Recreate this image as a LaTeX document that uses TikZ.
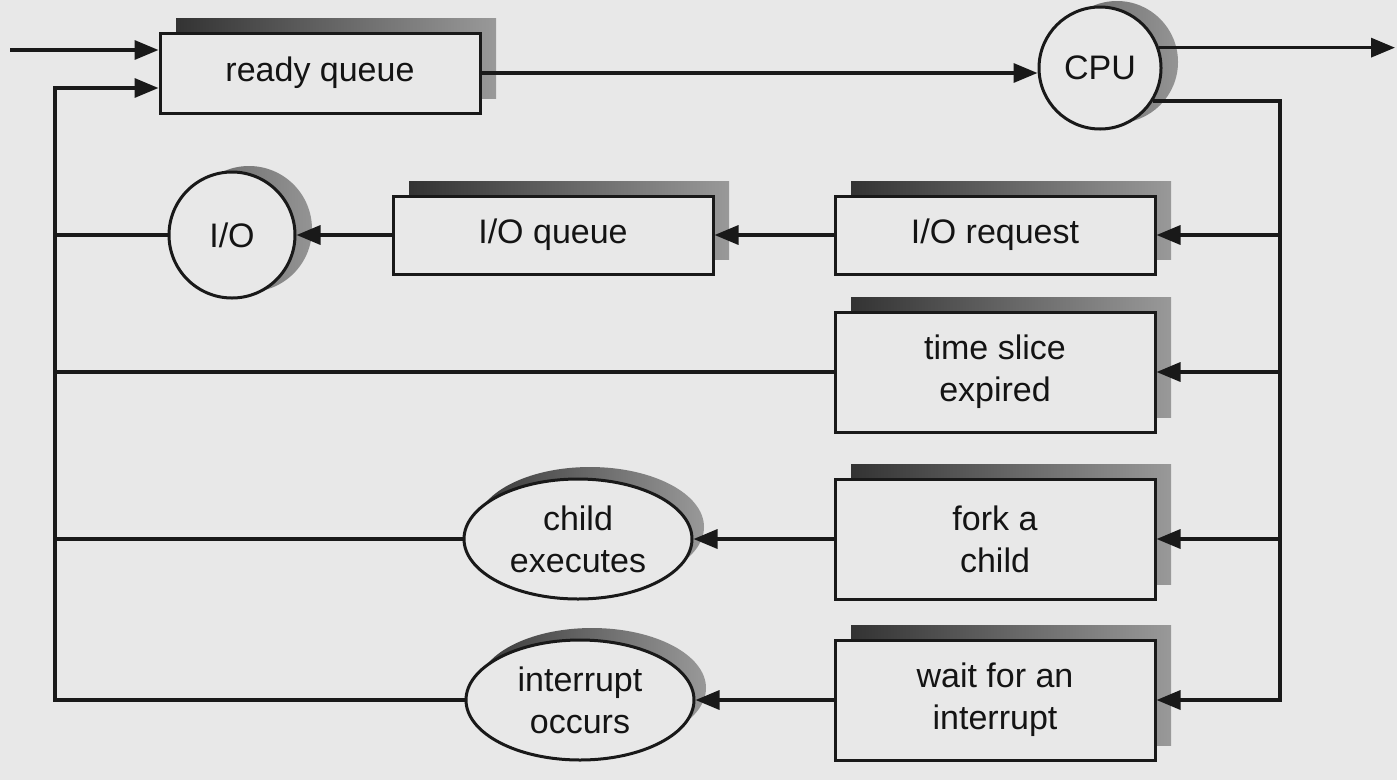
\documentclass[tikz,border=0pt]{standalone}
\usepackage{fontspec}
\setmainfont{Liberation Sans}
\usetikzlibrary{arrows.meta,shapes.geometric,shadows}
\begin{document}
\begin{tikzpicture}[x=1pt,y=-1pt,
  every node/.style={font=\fontsize{34}{42}\selectfont, text=black!92},
  line/.style={draw=black!90, line width=3.4pt},
  arr/.style={line, -{Triangle[length=24pt,width=19pt]}},
  boxnode/.style={draw=black!90, line width=3pt, fill=black!9, minimum width=320pt,
    align=center, inner sep=0pt,
    general shadow={shadow scale=1, shadow xshift=16pt, shadow yshift=15pt,
      left color=black!80, right color=black!40}},
  circnode/.style={circle, draw=black!90, line width=3pt, fill=black!9, inner sep=0pt,
    general shadow={shadow scale=1, shadow xshift=17pt, shadow yshift=6pt,
      left color=black!60, right color=black!42}},
  ellnode/.style={ellipse, draw=black!90, line width=3pt, fill=black!9, inner sep=0pt,
    minimum width=228pt, minimum height=120pt, align=center,
    general shadow={shadow scale=1, shadow xshift=12pt, shadow yshift=12pt,
      left color=black!78, right color=black!40}}
]
\fill[black!9] (0,0) rectangle (1397,780);
\useasboundingbox (0,0) rectangle (1397,780);

% nodes
\node[boxnode, minimum height=80pt] (rq) at (320,73) {ready queue};
\node[circnode, minimum size=122pt] (cpu) at (1100,68) {CPU};
\node[circnode, minimum size=126pt] (io) at (232,235) {I/O};
\node[boxnode, minimum height=78pt] (ioq) at (553,235) {I/O queue};
\node[boxnode, minimum height=78pt] (ior) at (995,235) {I/O request};
\node[boxnode, minimum height=120pt] (ts) at (995,372) {time slice\\expired};
\node[boxnode, minimum height=120pt] (fork) at (995,539) {fork a\\child};
\node[boxnode, minimum height=120pt] (wait) at (995,700) {wait for an\\interrupt};
\node[ellnode] (ce) at (578,539) {child\\executes};
\node[ellnode] (io2) at (580,700) {interrupt\\occurs};

% helper coordinates
\coordinate (in) at (10,50);
\coordinate (out) at (1395,48);
\coordinate (L) at (55,88);
\coordinate (R) at (1280,0);

% top row
\draw[arr] (in) -- (rq.west |- in);
\draw[arr] (rq.east) -- (rq.east -| cpu.west);
\draw[arr] (cpu.19) -- (cpu.19 -| out);

% right bus
\draw[arr] (cpu.-32) -- (cpu.-32 -| R) -- (wait.east -| R) -- (wait.east);
\draw[arr] (ior.east -| R) -- (ior.east);
\draw[arr] (ts.east -| R) -- (ts.east);
\draw[arr] (fork.east -| R) -- (fork.east);

% middle connections
\draw[arr] (ior.west) -- (ioq.east);
\draw[arr] (ioq.west) -- (io.east);
\draw[arr] (fork.west) -- (ce.east);
\draw[arr] (wait.west) -- (io2.east);

% left bus
\draw[line] (io.west) -- (io.west -| L);
\draw[line] (ts.west) -- (ts.west -| L);
\draw[line] (ce.west) -- (ce.west -| L);
\draw[arr] (io2.west) -- (io2.west -| L) -- (L) -- (rq.west |- L);
\end{tikzpicture}
\end{document}
